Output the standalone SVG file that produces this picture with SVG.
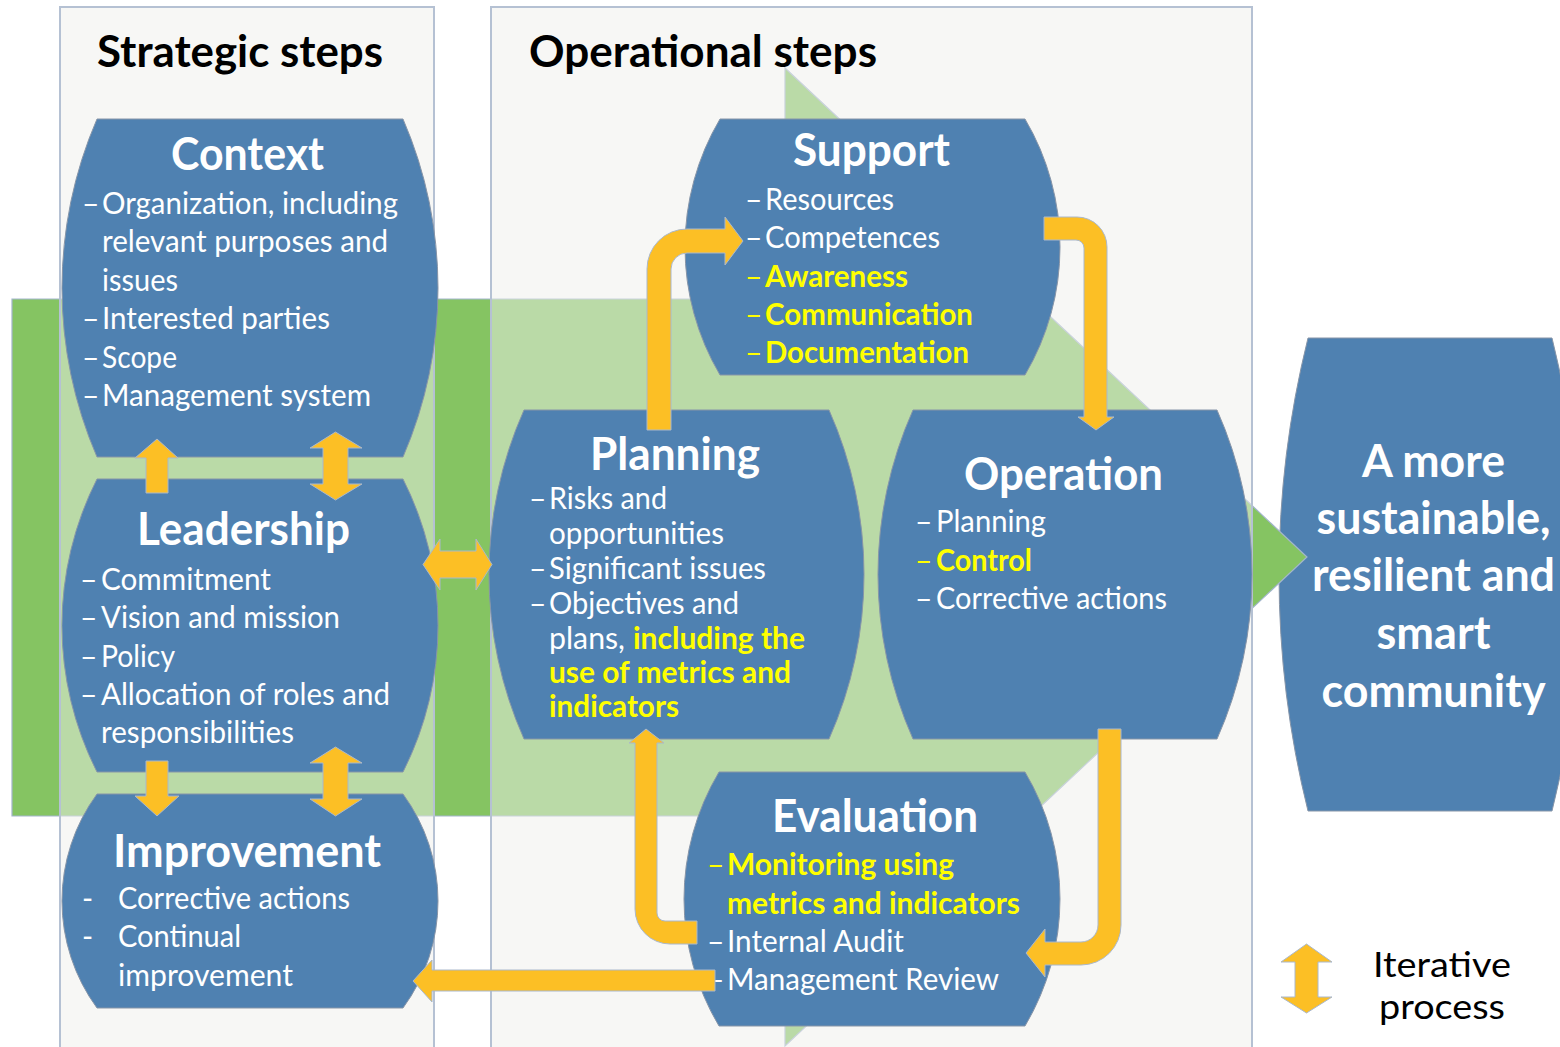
<svg xmlns="http://www.w3.org/2000/svg" width="1560" height="1047" viewBox="0 0 1560 1047">
<defs>
<style>
.node{fill:#4f81b1;stroke:#8795a8;stroke-width:1}
.t{font-family:Lato,"Open Sans","Liberation Sans",sans-serif;font-size:30px;fill:#ffffff}
.yb{fill:#ffff00;font-weight:bold}
.yd{fill:#ffff00}
.h{font-family:Lato,"Open Sans","Liberation Sans",sans-serif;font-size:45px;font-weight:bold;fill:#ffffff}
.mt{font-family:Lato,"Open Sans","Liberation Sans",sans-serif;font-size:44px;font-weight:bold;fill:#000000}
.lg{font-family:Lato,"Open Sans","Liberation Sans",sans-serif;font-size:35px;fill:#000000}
.arrow{fill:#fcbf25;stroke:#aab8cc;stroke-width:1}
.panel{fill:#efefeb;fill-opacity:0.5;stroke:#b5c1d3;stroke-width:2}
</style>
</defs>
<rect x="0" y="0" width="1560" height="1047" fill="#ffffff"/>

<g id="node-goal">
<path class="node" d="M1308,338 L1552,338 A979,979 0 0 1 1552,811 L1308,811 A979,979 0 0 1 1308,338 Z"/>
<g class="h" text-anchor="middle" transform="translate(0,2)">
<text x="1433.5" y="475" textLength="143" lengthAdjust="spacingAndGlyphs">A more</text>
<text x="1433.5" y="532" textLength="234" lengthAdjust="spacingAndGlyphs">sustainable,</text>
<text x="1433.5" y="589" textLength="243" lengthAdjust="spacingAndGlyphs">resilient and</text>
<text x="1433.5" y="647" textLength="114" lengthAdjust="spacingAndGlyphs">smart</text>
<text x="1433.5" y="705" textLength="224" lengthAdjust="spacingAndGlyphs">community</text>
</g>
</g>

<g id="big-arrow">
<path d="M12,299 L785,299 L785,68 L1307,557 L785,1046 L785,816 L12,816 Z" fill="#85c462" stroke="#a3b5cc" stroke-width="1.2"/>
</g>

<g id="panels">
<rect class="panel" x="60" y="7" width="374" height="1050"/>
<rect class="panel" x="491" y="7" width="761" height="1050"/>
<text class="mt" x="97" y="67" textLength="286" lengthAdjust="spacingAndGlyphs">Strategic steps</text>
<text class="mt" x="529" y="67" textLength="348" lengthAdjust="spacingAndGlyphs">Operational steps</text>
</g>

<g id="node-context">
<path class="node" d="M97,119 L403,119 A425.5,425.5 0 0 1 403,457 L97,457 A425.5,425.5 0 0 1 97,119 Z"/>
<text class="h" x="171" y="170" textLength="153" lengthAdjust="spacingAndGlyphs">Context</text>
<g class="t" transform="translate(0,1.5)">
<text x="82" y="212">–</text><text x="102" y="212" textLength="296" lengthAdjust="spacingAndGlyphs">Organization, including</text>
<text x="102" y="250.5" textLength="286" lengthAdjust="spacingAndGlyphs">relevant purposes and</text>
<text x="102" y="289" textLength="76" lengthAdjust="spacingAndGlyphs">issues</text>
<text x="82" y="327.5">–</text><text x="102" y="327.5" textLength="228" lengthAdjust="spacingAndGlyphs">Interested parties</text>
<text x="82" y="366">–</text><text x="102" y="366" textLength="75" lengthAdjust="spacingAndGlyphs">Scope</text>
<text x="82" y="404">–</text><text x="102" y="404" textLength="269" lengthAdjust="spacingAndGlyphs">Management system</text>
</g>
</g>

<g id="node-leadership">
<path class="node" d="M97,479 L403,479 A324,324 0 0 1 403,772 L97,772 A324,324 0 0 1 97,479 Z"/>
<text class="h" x="137" y="545" textLength="213" lengthAdjust="spacingAndGlyphs">Leadership</text>
<g class="t" transform="translate(0,1.5)">
<text x="80" y="588">–</text><text x="101" y="588" textLength="170" lengthAdjust="spacingAndGlyphs">Commitment</text>
<text x="80" y="626.5">–</text><text x="101" y="626.5" textLength="239" lengthAdjust="spacingAndGlyphs">Vision and mission</text>
<text x="80" y="665">–</text><text x="101" y="665" textLength="74" lengthAdjust="spacingAndGlyphs">Policy</text>
<text x="80" y="703">–</text><text x="101" y="703" textLength="289" lengthAdjust="spacingAndGlyphs">Allocation of roles and</text>
<text x="101" y="741" textLength="193" lengthAdjust="spacingAndGlyphs">responsibilities</text>
</g>
</g>

<g id="node-improvement">
<path class="node" d="M97,794 L403,794 A181,181 0 0 1 403,1008 L97,1008 A181,181 0 0 1 97,794 Z"/>
<text class="h" x="113" y="867" textLength="268" lengthAdjust="spacingAndGlyphs">Improvement</text>
<g class="t" transform="translate(0,1.5)">
<text x="82" y="907">-</text><text x="118" y="907" textLength="232" lengthAdjust="spacingAndGlyphs">Corrective actions</text>
<text x="82" y="945.5">-</text><text x="118" y="945.5" textLength="123" lengthAdjust="spacingAndGlyphs">Continual</text>
<text x="118" y="984" textLength="175" lengthAdjust="spacingAndGlyphs">improvement</text>
</g>
</g>

<g id="node-support">
<path class="node" d="M720,119 L1025,119 A251.5,251.5 0 0 1 1025,375 L720,375 A251.5,251.5 0 0 1 720,119 Z"/>
<text class="h" x="793" y="166" textLength="157" lengthAdjust="spacingAndGlyphs">Support</text>
<g class="t" transform="translate(0,1.5)">
<text x="745" y="208">–</text><text x="765" y="208" textLength="129" lengthAdjust="spacingAndGlyphs">Resources</text>
<text x="745" y="246.5">–</text><text x="765" y="246.5" textLength="175" lengthAdjust="spacingAndGlyphs">Competences</text>
<text class="yd" x="745" y="285">–</text><text class="yb" x="765" y="285" textLength="143" lengthAdjust="spacingAndGlyphs">Awareness</text>
<text class="yd" x="745" y="323">–</text><text class="yb" x="765" y="323" textLength="208" lengthAdjust="spacingAndGlyphs">Communication</text>
<text class="yd" x="745" y="361.5">–</text><text class="yb" x="765" y="361.5" textLength="204" lengthAdjust="spacingAndGlyphs">Documentation</text>
</g>
</g>

<g id="node-planning">
<path class="node" d="M524,410 L829,410 A404,404 0 0 1 829,739 L524,739 A404,404 0 0 1 524,410 Z"/>
<text class="h" x="590" y="470" textLength="170" lengthAdjust="spacingAndGlyphs">Planning</text>
<g class="t" transform="translate(0,1.5)">
<text x="529" y="507">–</text><text x="549" y="507" textLength="118" lengthAdjust="spacingAndGlyphs">Risks and</text>
<text x="549" y="542" textLength="175" lengthAdjust="spacingAndGlyphs">opportunities</text>
<text x="529" y="577">–</text><text x="549" y="577" textLength="217" lengthAdjust="spacingAndGlyphs">Significant issues</text>
<text x="529" y="612">–</text><text x="549" y="612" textLength="190" lengthAdjust="spacingAndGlyphs">Objectives and</text>
<text x="549" y="647" textLength="76" lengthAdjust="spacingAndGlyphs">plans,</text><text class="yb" x="633" y="647" textLength="172" lengthAdjust="spacingAndGlyphs">including the</text>
<text class="yb" x="549" y="681" textLength="242" lengthAdjust="spacingAndGlyphs">use of metrics and</text>
<text class="yb" x="549" y="715" textLength="130" lengthAdjust="spacingAndGlyphs">indicators</text>
</g>
</g>

<g id="node-operation">
<path class="node" d="M913,410 L1217,410 A404,404 0 0 1 1217,739 L913,739 A404,404 0 0 1 913,410 Z"/>
<text class="h" x="964" y="490" textLength="199" lengthAdjust="spacingAndGlyphs">Operation</text>
<g class="t" transform="translate(0,1.5)">
<text x="915" y="530">–</text><text x="936" y="530" textLength="110" lengthAdjust="spacingAndGlyphs">Planning</text>
<text class="yd" x="915" y="569">–</text><text class="yb" x="936" y="569" textLength="96" lengthAdjust="spacingAndGlyphs">Control</text>
<text x="915" y="607">–</text><text x="936" y="607" textLength="231" lengthAdjust="spacingAndGlyphs">Corrective actions</text>
</g>
</g>

<g id="node-evaluation">
<path class="node" d="M719,772 L1025,772 A248,248 0 0 1 1025,1026 L719,1026 A248,248 0 0 1 719,772 Z"/>
<text class="h" x="772" y="832" textLength="206" lengthAdjust="spacingAndGlyphs">Evaluation</text>
<g class="t" transform="translate(0,1.5)">
<text class="yd" x="707" y="873">–</text><text class="yb" x="727" y="873" textLength="227" lengthAdjust="spacingAndGlyphs">Monitoring using</text>
<text class="yb" x="727" y="912" textLength="293" lengthAdjust="spacingAndGlyphs">metrics and indicators</text>
<text x="707" y="950">–</text><text x="727" y="950" textLength="177" lengthAdjust="spacingAndGlyphs">Internal Audit</text>
<text x="707" y="988">–</text><text x="727" y="988" textLength="272" lengthAdjust="spacingAndGlyphs">Management Review</text>
</g>
</g>

<g id="connectors">
<path class="arrow" d="M157,439 L178,458 L168,458 L168,493 L146,493 L146,458 L135,458 Z"/>
<path class="arrow" d="M335.5,432 L362,448 L348,448 L348,484 L362,484 L335.5,500 L310,484 L323,484 L323,448 L310,448 Z"/>
<path class="arrow" d="M146,761 L168,761 L168,796 L179,796 L157,816 L135,796 L146,796 Z"/>
<path class="arrow" d="M335.5,747 L362,763 L348,763 L348,799 L362,799 L335.5,816 L310,799 L323,799 L323,763 L310,763 Z"/>
<path class="arrow" d="M423,564.5 L440,539 L440,551 L476,551 L476,539 L492,564.5 L476,590 L476,578 L440,578 L440,590 Z"/>
<path class="arrow" d="M647,430 L647,269 A40,40 0 0 1 687,229 L725,229 L725,217 L743,241 L725,265 L725,253 L687,253 A16,16 0 0 0 671,269 L671,430 Z"/>
<path class="arrow" d="M1044,217 L1077,217 A30,30 0 0 1 1107,247 L1107,417 L1114,417 L1096,430 L1078,417 L1084,417 L1084,248 A8,8 0 0 0 1076,240 L1044,240 Z"/>
<path class="arrow" d="M1098,729 L1121,729 L1121,925 A40,40 0 0 1 1081,965 L1045,965 L1045,977 L1026,953 L1045,929 L1045,942 L1081,942 A17,17 0 0 0 1098,925 Z"/>
<path class="arrow" d="M697,921 L665,921 A8,8 0 0 1 657,913 L657,743 L664,743 L646,729 L629,743 L635,743 L635,909 A35,35 0 0 0 670,944 L697,944 Z"/>
<path class="arrow" d="M715,970 L432,970 L432,960 L413,981 L432,1002 L432,991 L715,991 Z"/>
</g>

<g id="legend">
<path class="arrow" d="M1306.5,944 L1332,962 L1318,962 L1318,997 L1332,997 L1306.5,1013 L1281,997 L1295,997 L1295,962 L1281,962 Z"/>
<text class="lg" x="1373" y="977" textLength="138" lengthAdjust="spacingAndGlyphs">Iterative</text>
<text class="lg" x="1379" y="1019" textLength="126" lengthAdjust="spacingAndGlyphs">process</text>
</g>
</svg>
